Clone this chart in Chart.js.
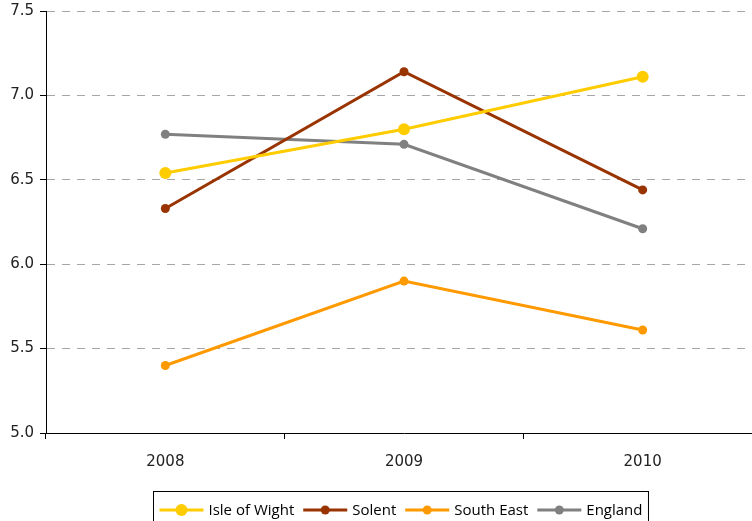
<!DOCTYPE html>
<html>
<head>
<meta charset="utf-8">
<script src="https://cdn.jsdelivr.net/npm/chart.js@4/dist/chart.umd.min.js"></script>
<style>
  html, body { margin: 0; padding: 0; background: #fff; overflow: hidden; }
  canvas { display: block; }
</style>
</head>
<body>
<canvas id="chart" width="768" height="521"></canvas>
<script>
const years = ['2008', '2009', '2010'];
const isleOfWight = [6.54, 6.80, 7.11];
const solent = [6.33, 7.14, 6.44];
const southEast = [5.40, 5.90, 5.61];
const england = [6.77, 6.71, 6.21];
const yTicks = [5.0, 5.5, 6.0, 6.5, 7.0, 7.5];

const colors = {
    wight: '#ffcc00',
    solent: '#993300',
    southEast: '#ff9900',
    england: '#808080'
};

// boxed legend under the plot: short line with a dot, then the name
const boxLegend = {
    id: 'boxLegend',
    afterDraw(chart) {
        const ctx = chart.ctx;
        const sets = chart.data.datasets;
        ctx.save();
        ctx.font = '15px "Open Sans", sans-serif';
        ctx.textBaseline = 'middle';
        const lineLen = 44, gapLine = 5, gapItem = 9;
        let total = 0;
        sets.forEach((ds, i) => {
            total += lineLen + gapLine + ctx.measureText(ds.label).width;
            if (i < sets.length - 1) total += gapItem;
        });
        const boxW = total + 12;
        const boxX = 153.5;
        const boxY = 491.5;
        ctx.strokeStyle = '#000';
        ctx.lineWidth = 1;
        ctx.strokeRect(boxX, boxY, boxW, 40);
        let x = boxX + 6;
        const y = 510;
        sets.forEach(ds => {
            ctx.strokeStyle = ds.borderColor;
            ctx.lineWidth = 3;
            ctx.beginPath();
            ctx.moveTo(x, y);
            ctx.lineTo(x + lineLen, y);
            ctx.stroke();
            ctx.fillStyle = ds.borderColor;
            ctx.beginPath();
            ctx.arc(x + lineLen / 2, y, ds.pointRadius, 0, Math.PI * 2);
            ctx.fill();
            x += lineLen + gapLine;
            ctx.fillStyle = '#000';
            ctx.fillText(ds.label, x, y + 1);
            x += ctx.measureText(ds.label).width + gapItem;
        });
        ctx.restore();
    }
};

function series(label, data, color, radius) {
    return {
        label: label,
        data: data,
        borderColor: color,
        backgroundColor: color,
        borderWidth: 3,
        pointRadius: radius,
        pointHoverRadius: radius,
        pointBorderWidth: 0,
        tension: 0
    };
}

new Chart(document.getElementById('chart'), {
    type: 'line',
    data: {
        labels: years,
        datasets: [
            series('Isle of Wight', isleOfWight, colors.wight, 6),
            series('Solent', solent, colors.solent, 4.5),
            series('South East', southEast, colors.southEast, 4.5),
            series('England', england, colors.england, 4.5)
        ]
    },
    options: {
        responsive: false,
        animation: false,
        layout: { padding: { top: 11, right: 0, bottom: 0, left: 0 } },
        plugins: {
            legend: { display: false },
            tooltip: { enabled: false }
        },
        scales: {
            x: {
                offset: true,
                afterFit: s => {
                    s.height = 88;
                    s.paddingLeft = 0;
                    s.paddingRight = 0;
                },
                grid: {
                    offset: true,
                    drawOnChartArea: false,
                    color: '#000',
                    tickLength: 6
                },
                border: { color: '#000', width: 1 },
                ticks: {
                    color: '#222',
                    font: { family: 'DejaVu Sans', size: 15 },
                    padding: 14
                }
            },
            y: {
                min: 5,
                max: 7.5,
                afterFit: s => {
                    s.width = 46;
                    s.paddingTop = 0;
                    s.paddingBottom = 0;
                },
                afterBuildTicks: s => { s.ticks = yTicks.map(v => ({ value: v })); },
                grid: {
                    color: ctx => ctx.tick && ctx.tick.value === 5 ? 'rgba(0,0,0,0)' : '#a6a6a6',
                    tickColor: '#000',
                    tickLength: 6,
                    drawTicks: true
                },
                border: { color: '#000', width: 1, dash: [8, 7] },
                ticks: {
                    color: '#222',
                    font: { family: 'DejaVu Sans', size: 15 },
                    padding: 6,
                    callback: v => v.toFixed(1)
                }
            }
        }
    },
    plugins: [boxLegend]
});
</script>
</body>
</html>
